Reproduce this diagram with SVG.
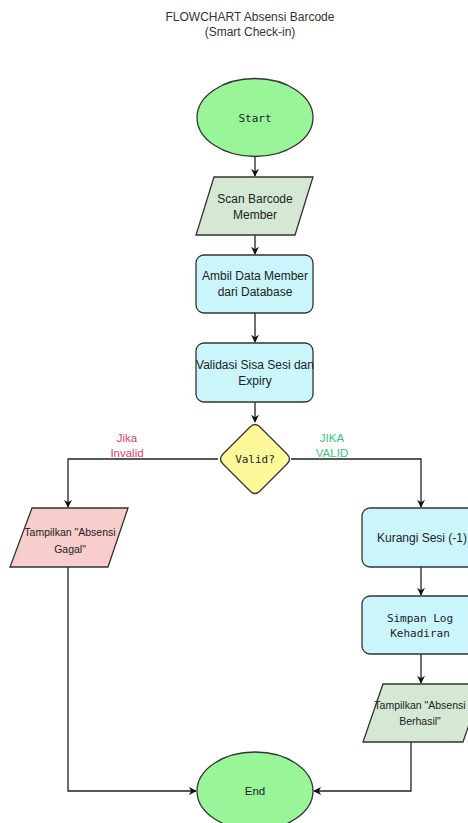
<svg xmlns="http://www.w3.org/2000/svg" width="468" height="823" viewBox="0 0 468 823">
<defs>
<style>
.t{font-family:"Liberation Sans",Arial,sans-serif;fill:#222;text-anchor:middle}
.m{font-family:"DejaVu Sans Mono","Liberation Mono",monospace;fill:#222;text-anchor:middle}
.s{stroke:#333;stroke-width:1.3}
.c{fill:none;stroke:#222;stroke-width:1.3}
</style>
<marker id="ah" viewBox="0 0 10 10" refX="9" refY="5" markerWidth="8" markerHeight="8" markerUnits="userSpaceOnUse" orient="auto">
<path d="M0,0 L10,5 L0,10 L3,5 Z" fill="#111"/>
</marker>
</defs>
<rect width="468" height="823" fill="#fff"/>
<g id="title">
<text class="t" x="250" y="21" font-size="12" style="fill:#333">FLOWCHART Absensi Barcode</text>
<text class="t" x="250" y="36" font-size="12" style="fill:#333">(Smart Check-in)</text>
</g>
<g id="connectors">
<path class="c" d="M255,157 V176" marker-end="url(#ah)"/>
<path class="c" d="M255,235 V254" marker-end="url(#ah)"/>
<path class="c" d="M255,313 V342" marker-end="url(#ah)"/>
<path class="c" d="M255,402 V422" marker-end="url(#ah)"/>
<path class="c" d="M218,459 H68 V507" marker-end="url(#ah)"/>
<path class="c" d="M291,459 H421 V507" marker-end="url(#ah)"/>
<path class="c" d="M421,567 V595" marker-end="url(#ah)"/>
<path class="c" d="M421,654 V683" marker-end="url(#ah)"/>
<path class="c" d="M68,567 V791 H196" marker-end="url(#ah)"/>
<path class="c" d="M411,742 V791 H314" marker-end="url(#ah)"/>
<text class="t" x="127" y="442" font-size="11.5" style="fill:#d9455f">Jika</text>
<text class="t" x="127" y="457" font-size="11.5" style="fill:#d9455f">Invalid</text>
<text class="t" x="332" y="442" font-size="11.5" style="fill:#3cc47c">JIKA</text>
<text class="t" x="332" y="457" font-size="11.5" style="fill:#3cc47c">VALID</text>
</g>
<g id="start">
<ellipse class="s" cx="255" cy="117.5" rx="58" ry="39" fill="#98f598"/>
<text class="m" x="255" y="122" font-size="11">Start</text>
</g>
<g id="scan">
<polygon class="s" points="214,177 313,177 295,235 196,235" fill="#d5e8d4"/>
<text class="t" x="255" y="203" font-size="12">Scan Barcode</text>
<text class="t" x="255" y="219" font-size="12">Member</text>
</g>
<g id="ambil">
<rect class="s" x="196" y="255" width="117" height="58" rx="8" fill="#c9f5fb"/>
<text class="t" x="255" y="280" font-size="12">Ambil Data Member</text>
<text class="t" x="255" y="296" font-size="12">dari Database</text>
</g>
<g id="validasi">
<rect class="s" x="196" y="343" width="117" height="59" rx="8" fill="#c9f5fb"/>
<text class="t" x="255" y="369" font-size="12">Validasi Sisa Sesi dan</text>
<text class="t" x="255" y="385" font-size="12">Expiry</text>
</g>
<g id="valid">
<path class="s" d="M250,427 Q255,422 260,427 L287,454 Q292,459 287,464 L260,491 Q255,496 250,491 L223,464 Q218,459 223,454 Z" fill="#fdf89a"/>
<text class="m" x="255" y="463" font-size="11">Valid?</text>
</g>
<g id="gagal">
<polygon class="s" points="32,508 128,508 108,567 10,567" fill="#f8cecc"/>
<text class="t" x="70" y="536" font-size="10.5">Tampilkan "Absensi</text>
<text class="t" x="70" y="553" font-size="10.5">Gagal"</text>
</g>
<g id="kurangi">
<rect class="s" x="362" y="508" width="120" height="59" rx="8" fill="#c9f5fb"/>
<text class="t" x="422" y="542" font-size="12">Kurangi Sesi (-1)</text>
</g>
<g id="simpan">
<rect class="s" x="362" y="596" width="120" height="58" rx="8" fill="#c9f5fb"/>
<text class="m" x="420" y="622" font-size="11">Simpan Log</text>
<text class="m" x="420" y="637" font-size="11">Kehadiran</text>
</g>
<g id="berhasil">
<polygon class="s" points="383,684 483,684 463,742 363,742" fill="#d5e8d4"/>
<text class="t" x="420" y="709" font-size="10.5">Tampilkan "Absensi</text>
<text class="t" x="420" y="725" font-size="10.5">Berhasil"</text>
</g>
<g id="end">
<ellipse class="s" cx="255" cy="791" rx="58" ry="39" fill="#98f598"/>
<text class="t" x="255" y="795" font-size="11.5">End</text>
</g>
</svg>
